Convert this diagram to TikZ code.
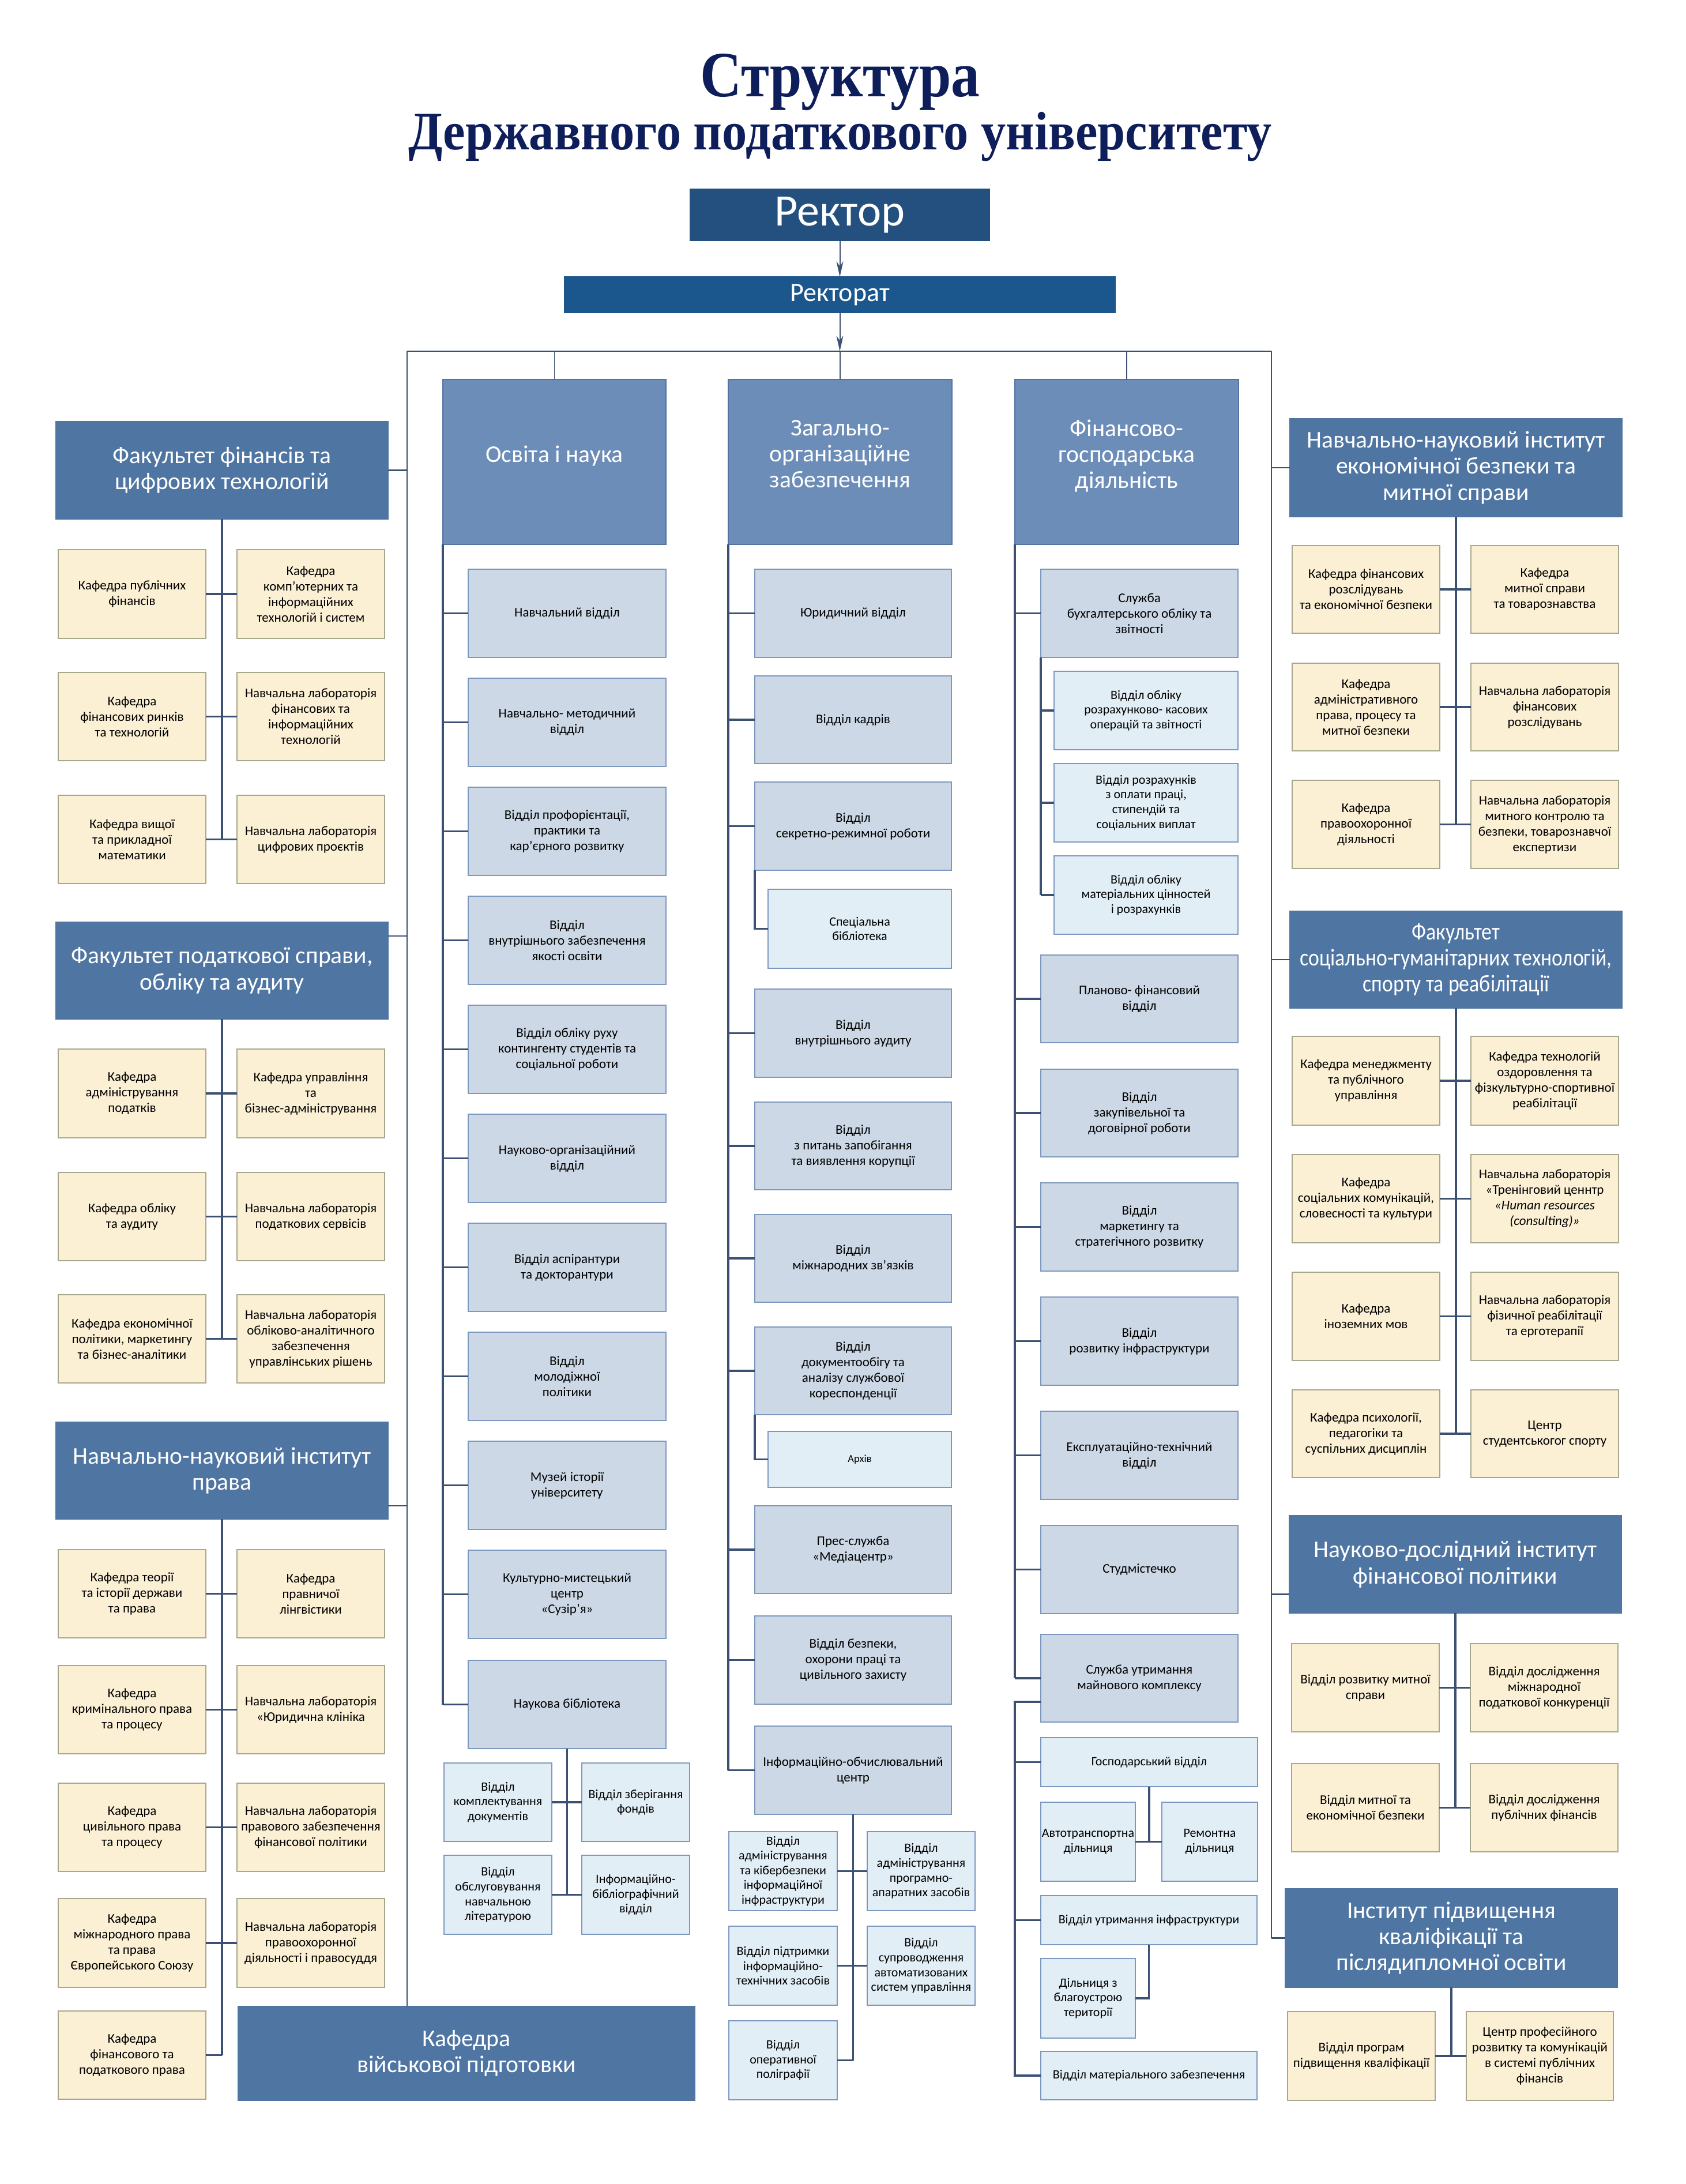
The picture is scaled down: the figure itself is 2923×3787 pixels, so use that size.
\documentclass[tikz,border=0pt]{standalone}
\usepackage{fontspec}
\usepackage{graphicx}
\setmainfont{Carlito}
\newfontfamily\titlefont{Liberation Serif}
\usetikzlibrary{arrows.meta,calc}
\definecolor{titlecol}{HTML}{0E1E5B}
\definecolor{rectorcol}{HTML}{245080}
\definecolor{rectoratcol}{HTML}{1B568C}
\definecolor{hdrcol}{HTML}{4F75A3}
\definecolor{colhdrcol}{HTML}{6B8DB8}
\definecolor{colhdrborder}{HTML}{5473A0}
\definecolor{deptcol}{HTML}{CCD8E6}
\definecolor{deptborder}{HTML}{7D98BE}
\definecolor{subcol}{HTML}{E2EEF6}
\definecolor{yelcol}{HTML}{FBF0D4}
\definecolor{yelborder}{HTML}{A7A78D}
\definecolor{linecol}{HTML}{3B5072}
\tikzset{
  basebox/.style={inner sep=0pt, outer sep=0pt, align=center, line width=0.5pt},
  rectbox/.style={basebox, text=white},
  hdr/.style={basebox, fill=hdrcol, draw=hdrcol, text=white, font=\fontsize{10.4}{11.3}\selectfont},
  colhdr/.style={basebox, fill=colhdrcol, draw=colhdrborder, line width=0.7pt, text=white, text depth=7pt, font=\fontsize{10.4}{11.3}\selectfont},
  dept/.style={basebox, fill=deptcol, draw=deptborder, font=\fontsize{5.75}{6.75}\selectfont},
  subd/.style={basebox, fill=subcol, draw=deptborder, font=\fontsize{5.5}{6.4}\selectfont},
  yel/.style={basebox, fill=yelcol, draw=yelborder, font=\fontsize{5.75}{6.75}\selectfont},
  conn/.style={draw=linecol, line width=0.85pt},
  busline/.style={draw=linecol, line width=0.6pt},
  drop/.style={draw=linecol, line width=0.45pt},
  arr/.style={draw=linecol, line width=0.5pt, -{Stealth[length=6.75pt,width=3pt]}}
}
\newcommand\bx[8][]{\node[#2, minimum width={(#6-#4)*0.25pt}, minimum height={(#7-#5)*0.25pt}, #1] (#3) at ({(#4+#6)/2},{(#5+#7)/2}) {#8};}
\newcommand\cnd[1]{\scalebox{0.86}[1]{#1}}
\begin{document}
\begin{tikzpicture}[x=0.25pt,y=-0.25pt]
\fill[white] (0,0) rectangle (2923,3787);
\useasboundingbox (0,0) rectangle (2923,3787);

% Title
\node[anchor=base, font=\titlefont\bfseries\fontsize{28}{30}\selectfont, text=titlecol] (t1) at (1457,168) {\scalebox{0.89}[1]{Структура}};
\node[anchor=base, font=\titlefont\bfseries\fontsize{23.5}{26}\selectfont, text=titlecol] (t2) at (1457,260) {\scalebox{0.92}[1]{Державного податкового університету}};

% Rector
\bx[fill=rectorcol, draw=rectorcol, font=\fontsize{19.5}{22}\selectfont]{rectbox}{rector}{1197}{328}{1716}{417}{Ректор}
\bx[fill=rectoratcol, draw=rectoratcol, font=\fontsize{11.5}{13}\selectfont]{rectbox}{rectorat}{979}{480}{1934}{542}{Ректорат}
\coordinate (busC) at (1456.5,609);
\coordinate (busL) at (706,609);
\coordinate (busR) at (2205,609);
\draw[arr] (rector) -- (rectorat);
\draw[arr] (rectorat) -- (busC);
\draw[busline] (busL) -- (busR);

% ===== Left column =====
\bx{hdr}{f1}{97}{731}{673}{900}{Факультет фінансів та\\цифрових технологій}
\bx{yel}{f1a}{101}{953}{357}{1107}{Кафедра публічних\\фінансів}
\bx{yel}{f1b}{411}{953}{667}{1107}{Кафедра\\комп’ютерних та\\інформаційних\\технологій і систем}
\bx{yel}{f1c}{101}{1166}{357}{1319}{Кафедра\\фінансових ринків\\та технологій}
\bx{yel}{f1d}{411}{1166}{667}{1319}{Навчальна лабораторія\\фінансових та\\інформаційних\\технологій}
\bx{yel}{f1e}{101}{1379}{357}{1532}{Кафедра вищої\\та прикладної\\математики}
\bx{yel}{f1f}{411}{1379}{667}{1532}{Навчальна лабораторія\\цифрових проєктів}
\draw[conn] (f1.south) -- (f1.south |- f1e.east);
\draw[conn] (f1a) -- (f1b);
\draw[conn] (f1c) -- (f1d);
\draw[conn] (f1e) -- (f1f);

\bx{hdr}{f2}{97}{1599}{673}{1767}{Факультет податкової справи,\\обліку та аудиту}
\bx{yel}{f2a}{101}{1819}{357}{1973}{Кафедра\\адміністрування\\податків}
\bx{yel}{f2b}{411}{1819}{667}{1973}{Кафедра управління\\та\\бізнес-адміністрування}
\bx{yel}{f2c}{101}{2033}{357}{2186}{Кафедра обліку\\та аудиту}
\bx{yel}{f2d}{411}{2033}{667}{2186}{Навчальна лабораторія\\податкових сервісів}
\bx{yel}{f2e}{101}{2245}{357}{2398}{Кафедра економічної\\політики, маркетингу\\та бізнес-аналітики}
\bx{yel}{f2f}{411}{2245}{667}{2398}{Навчальна лабораторія\\обліково-аналітичного\\забезпечення\\управлінських рішень}
\draw[conn] (f2.south) -- (f2.south |- f2e.east);
\draw[conn] (f2a) -- (f2b);
\draw[conn] (f2c) -- (f2d);
\draw[conn] (f2e) -- (f2f);

\bx{hdr}{f3}{97}{2466}{673}{2634}{Навчально-науковий інститут\\права}
\bx{yel}{f3a}{101}{2687}{357}{2840}{Кафедра теорії\\та історії держави\\та права}
\bx{yel}{f3b}{411}{2687}{667}{2840}{Кафедра\\правничої\\лінгвістики}
\bx{yel}{f3c}{101}{2888}{357}{3041}{Кафедра\\кримінального права\\та процесу}
\bx{yel}{f3d}{411}{2888}{667}{3041}{Навчальна лабораторія\\«Юридична клініка}
\bx{yel}{f3e}{101}{3092}{357}{3245}{Кафедра\\цивільного права\\та процесу}
\bx{yel}{f3f}{411}{3092}{667}{3245}{Навчальна лабораторія\\правового забезпечення\\фінансової політики}
\bx{yel}{f3g}{101}{3292}{357}{3446}{Кафедра\\міжнародного права\\та права\\Європейського Союзу}
\bx{yel}{f3h}{411}{3292}{667}{3446}{Навчальна лабораторія\\правоохоронної\\діяльності і правосуддя}
\bx{yel}{f3i}{101}{3487}{357}{3640}{Кафедра\\фінансового та\\податкового права}
\draw[conn] (f3.south) -- (f3.south |- f3i.east);
\draw[conn] (f3a) -- (f3b);
\draw[conn] (f3c) -- (f3d);
\draw[conn] (f3e) -- (f3f);
\draw[conn] (f3g) -- (f3h);
\draw[conn] (f3i.east) -- (f3i.east -| f3.south);

\bx{hdr}{mil}{413}{3479}{1205}{3642}{Кафедра\\військової підготовки}

% left bus
\draw[busline] (busL) -- (busL |- mil.north);
\draw[busline] (f1.east) -- (f1.east -| busL);
\coordinate (f2t) at ([yshift=15pt]f2.east);
\draw[busline] (f2t) -- (f2t -| busL);
\coordinate (f3t) at ([yshift=-15.25pt]f3.east);
\draw[busline] (f3t) -- (f3t -| busL);

% ===== Column 2: Освіта і наука =====
\bx{colhdr}{osv}{768}{658}{1155}{944}{Освіта і наука}
\bx{dept}{e1}{812}{987}{1155}{1140}{Навчальний відділ}
\bx{dept}{e2}{812}{1176}{1155}{1329}{Навчально- методичний\\відділ}
\bx{dept}{e3}{812}{1365}{1155}{1518}{Відділ профорієнтації,\\практики та\\кар’єрного розвитку}
\bx{dept}{e4}{812}{1554}{1155}{1707}{Відділ\\внутрішнього забезпечення\\якості освіти}
\bx{dept}{e5}{812}{1743}{1155}{1896}{Відділ обліку руху\\контингенту студентів та\\соціальної роботи}
\bx{dept}{e6}{812}{1932}{1155}{2085}{Науково-організаційний\\відділ}
\bx{dept}{e7}{812}{2121}{1155}{2274}{Відділ аспірантури\\та докторантури}
\bx{dept}{e8}{812}{2310}{1155}{2463}{Відділ\\молодіжної\\політики}
\bx{dept}{e9}{812}{2499}{1155}{2652}{Музей історії\\університету}
\bx{dept}{e10}{812}{2688}{1155}{2841}{Культурно-мистецький\\центр\\«Сузір’я»}
\bx{dept}{e11}{812}{2879}{1155}{3032}{Наукова бібліотека}
\bx{subd}{e11a}{770}{3057}{957}{3193}{Відділ\\комплектування\\документів}
\bx{subd}{e11b}{1009}{3057}{1196}{3193}{Відділ зберігання\\фондів}
\bx{subd}{e11c}{770}{3217}{957}{3354}{Відділ\\обслуговування\\навчальною\\літературою}
\bx{subd}{e11d}{1009}{3217}{1196}{3354}{Інформаційно-\\бібліографічний\\відділ}
\draw[drop] (osv.north |- busL) -- (osv.north);
\draw[conn] (osv.south west) -- (osv.south west |- e11.west);
\foreach \i in {1,...,11} \draw[conn] (osv.south west |- e\i.west) -- (e\i.west);
\draw[conn] (e11.south) -- (e11.south |- e11c.east);
\draw[conn] (e11a) -- (e11b);
\draw[conn] (e11c) -- (e11d);

% ===== Column 3: Загально-організаційне =====
\bx{colhdr}{zag}{1263}{658}{1651}{944}{Загально-\\організаційне\\забезпечення}
\bx{dept}{z1}{1309}{987}{1650}{1140}{Юридичний відділ}
\bx{dept}{z2}{1309}{1172}{1650}{1324}{Відділ кадрів}
\bx{dept}{z3}{1309}{1356}{1650}{1509}{Відділ\\секретно-режимної роботи}
\bx{subd}{z3a}{1332}{1542}{1650}{1679}{Спеціальна\\бібліотека}
\bx{dept}{z4}{1309}{1715}{1650}{1868}{Відділ\\внутрішнього аудиту}
\bx{dept}{z5}{1309}{1911}{1650}{2063}{Відділ\\з питань запобігання\\та виявлення корупції}
\bx{dept}{z6}{1309}{2106}{1650}{2258}{Відділ\\міжнародних зв’язків}
\bx{dept}{z7}{1309}{2301}{1650}{2453}{Відділ\\документообігу та\\аналізу службової\\кореспонденції}
\bx[font=\fontsize{4.6}{5.4}\selectfont]{subd}{z7a}{1332}{2482}{1650}{2579}{Архів}
\bx{dept}{z8}{1309}{2611}{1650}{2763}{Прес-служба\\«Медіацентр»}
\bx{dept}{z9}{1309}{2802}{1650}{2955}{Відділ безпеки,\\охорони праці та\\цивільного захисту}
\bx{dept}{z10}{1309}{2993}{1650}{3146}{Інформаційно-обчислювальний\\центр}
\bx{subd}{z10a}{1264}{3176}{1452}{3313}{Відділ\\адміністрування\\та кібербезпеки\\інформаційної\\інфраструктури}
\bx{subd}{z10b}{1504}{3176}{1691}{3313}{Відділ\\адміністрування\\програмно-\\апаратних засобів}
\bx{subd}{z10c}{1264}{3340}{1452}{3477}{Відділ підтримки\\інформаційно-\\технічних засобів}
\bx{subd}{z10d}{1504}{3340}{1691}{3477}{Відділ\\супроводження\\автоматизованих\\систем управління}
\bx{subd}{z10e}{1264}{3504}{1452}{3641}{Відділ\\оперативної\\поліграфії}
\draw[drop] (zag.north |- busL) -- (zag.north);
\draw[conn] (zag.south west) -- (zag.south west |- z10.west);
\foreach \i in {1,...,10} \draw[conn] (zag.south west |- z\i.west) -- (z\i.west);
\draw[conn] (z3.south west) -- (z3.south west |- z3a.west) -- (z3a.west);
\draw[conn] (z7.south west) -- (z7.south west |- z7a.west) -- (z7a.west);
\draw[conn] (z10.south) -- (z10.south |- z10e.east);
\draw[conn] (z10a) -- (z10b);
\draw[conn] (z10c) -- (z10d);
\draw[conn] (z10e.east) -- (z10e.east -| z10.south);

% ===== Column 4: Фінансово-господарська =====
\bx{colhdr}{fin}{1760}{658}{2148}{944}{Фінансово-\\господарська\\діяльність}
\bx{dept}{g1}{1805}{987}{2147}{1140}{Служба\\бухгалтерського обліку та\\звітності}
\bx{subd}{g1a}{1828}{1164}{2147}{1300}{Відділ обліку\\розрахунково- касових\\операцій та звітності}
\bx{subd}{g1b}{1828}{1324}{2147}{1460}{Відділ розрахунків\\з оплати праці,\\стипендій та\\соціальних виплат}
\bx{subd}{g1c}{1828}{1484}{2147}{1620}{Відділ обліку\\матеріальних цінностей\\і розрахунків}
\bx{dept}{g2}{1805}{1656}{2147}{1808}{Планово- фінансовий\\відділ}
\bx{dept}{g3}{1805}{1854}{2147}{2006}{Відділ\\закупівельної та\\договірної роботи}
\bx{dept}{g4}{1805}{2051}{2147}{2204}{Відділ\\маркетингу та\\стратегічного розвитку}
\bx{dept}{g5}{1805}{2249}{2147}{2402}{Відділ\\розвитку інфраструктури}
\bx{dept}{g6}{1805}{2447}{2147}{2600}{Експлуатаційно-технічний\\відділ}
\bx{dept}{g7}{1805}{2645}{2147}{2798}{Студмістечко}
\bx{dept}{g8}{1805}{2834}{2147}{2986}{Служба утримання\\майнового комплексу}
\bx{subd}{g8a}{1805}{3013}{2181}{3098}{Господарський відділ}
\bx{subd}{g8b}{1805}{3125}{1969}{3262}{Автотранспортна\\дільниця}
\bx{subd}{g8c}{2015}{3125}{2181}{3262}{Ремонтна\\дільниця}
\bx{subd}{g8d}{1805}{3287}{2180}{3372}{Відділ утримання інфраструктури}
\bx{subd}{g8e}{1805}{3396}{1969}{3534}{Дільниця з\\благоустрою\\території}
\bx{subd}{g8f}{1805}{3557}{2180}{3641}{Відділ матеріального забезпечення}
\draw[drop] (fin.north |- busL) -- (fin.north);
\draw[conn] (fin.south west) -- (fin.south west |- g8.west);
\foreach \i in {1,...,8} \draw[conn] (fin.south west |- g\i.west) -- (g\i.west);
\draw[conn] (g1.south west) -- (g1.south west |- g1c.west);
\foreach \s in {a,b,c} \draw[conn] (g1.south west |- g1\s.west) -- (g1\s.west);
\coordinate (g8s) at ($(g8.south west)+(0,-35)$);
\draw[conn] (g8s) -- (g8s -| fin.south west) -- (fin.south west |- g8f.west) -- (g8f.west);
\draw[conn] (fin.south west |- g8a.west) -- (g8a.west);
\draw[conn] (fin.south west |- g8d.west) -- (g8d.west);
\draw[conn] (g8a.south) -- (g8a.south |- g8b.east);
\draw[conn] (g8b) -- (g8c);
\draw[conn] (g8d.south) -- (g8d.south |- g8e.east) -- (g8e.east);

% ===== Right column =====
\bx{hdr}{r1}{2237}{726}{2813}{896}{Навчально-науковий інститут\\економічної безпеки та\\митної справи}
\bx{yel}{r1a}{2241}{946}{2497}{1098}{Кафедра фінансових\\розслідувань\\та економічної безпеки}
\bx{yel}{r1b}{2551}{946}{2807}{1098}{Кафедра\\митної справи\\та товарознавства}
\bx{yel}{r1c}{2241}{1150}{2497}{1302}{Кафедра\\адміністративного\\права, процесу та\\митної безпеки}
\bx{yel}{r1d}{2551}{1150}{2807}{1302}{Навчальна лабораторія\\фінансових\\розслідувань}
\bx{yel}{r1e}{2241}{1353}{2497}{1506}{Кафедра\\правоохоронної\\діяльності}
\bx{yel}{r1f}{2551}{1353}{2807}{1506}{Навчальна лабораторія\\митного контролю та\\безпеки, товарознавчої\\експертизи}
\draw[conn] (r1.south) -- (r1.south |- r1e.east);
\draw[conn] (r1a) -- (r1b);
\draw[conn] (r1c) -- (r1d);
\draw[conn] (r1e) -- (r1f);

\bx{hdr}{r2}{2237}{1580}{2813}{1748}{\cnd{Факультет}\\\cnd{соціально-гуманітарних технологій,}\\\cnd{спорту та реабілітації}}
\bx{yel}{r2a}{2241}{1797}{2497}{1951}{Кафедра менеджменту\\та публічного\\управління}
\bx{yel}{r2b}{2551}{1797}{2807}{1951}{Кафедра технологій\\оздоровлення та\\фізкультурно-спортивної\\реабілітації}
\bx{yel}{r2c}{2241}{2002}{2497}{2155}{Кафедра\\соціальних комунікацій,\\словесності та культури}
\bx{yel}{r2d}{2551}{2002}{2807}{2155}{Навчальна лабораторія\\«Тренінговий ценнтр\\{\itshape «Human resources}\\{\itshape (consulting)»}}
\bx{yel}{r2e}{2241}{2206}{2497}{2359}{Кафедра\\іноземних мов}
\bx{yel}{r2f}{2551}{2206}{2807}{2359}{Навчальна лабораторія\\фізичної реабілітації\\та ерготерапії}
\bx{yel}{r2g}{2241}{2410}{2497}{2562}{Кафедра психології,\\педагогіки та\\суспільних дисциплін}
\bx{yel}{r2h}{2551}{2410}{2807}{2562}{Центр\\студентськогог спорту}
\draw[conn] (r2.south) -- (r2.south |- r2g.east);
\draw[conn] (r2a) -- (r2b);
\draw[conn] (r2c) -- (r2d);
\draw[conn] (r2e) -- (r2f);
\draw[conn] (r2g) -- (r2h);

\bx{hdr}{r3}{2236}{2628}{2812}{2797}{Науково-дослідний інститут\\фінансової політики}
\bx{yel}{r3a}{2240}{2850}{2496}{3003}{Відділ розвитку митної\\справи}
\bx{yel}{r3b}{2550}{2850}{2806}{3003}{Відділ дослідження\\міжнародної\\податкової конкуренції}
\bx{yel}{r3c}{2240}{3058}{2496}{3211}{Відділ митної та\\економічної безпеки}
\bx{yel}{r3d}{2550}{3058}{2806}{3211}{Відділ дослідження\\публічних фінансів}
\draw[conn] (r3.south) -- (r3.south |- r3c.east);
\draw[conn] (r3a) -- (r3b);
\draw[conn] (r3c) -- (r3d);

\bx{hdr}{r4}{2229}{3275}{2805}{3446}{Інститут підвищення\\кваліфікації та\\післядипломної освіти}
\bx{yel}{r4a}{2233}{3488}{2489}{3642}{Відділ програм\\підвищення кваліфікації}
\bx{yel}{r4b}{2543}{3488}{2798}{3642}{Центр професійного\\розвитку та комунікацій\\в системі публічних\\фінансів}
\draw[conn] (r4.south) -- (r4.south |- r4a.east);
\draw[conn] (r4a) -- (r4b);

% right bus
\draw[busline] (busR) -- (busR |- r4.west);
\draw[busline] (r1.west) -- (r1.west -| busR);
\draw[busline] (r2.west) -- (r2.west -| busR);
\coordinate (r3t) at ([yshift=-13pt]r3.west);
\draw[busline] (r3t) -- (r3t -| busR);
\draw[busline] (r4.west) -- (r4.west -| busR);
\end{tikzpicture}
\end{document}
